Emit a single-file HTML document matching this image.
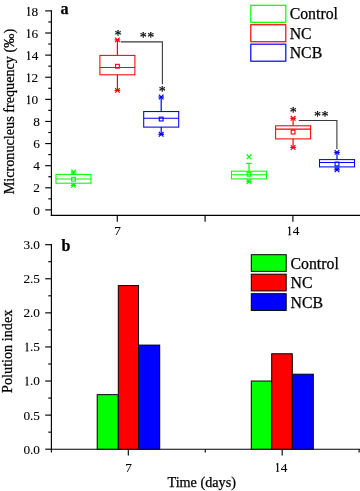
<!DOCTYPE html>
<html><head><meta charset="utf-8"><style>
html,body{margin:0;padding:0;background:#fff;}
svg{display:block;will-change:transform;}
text{font-family:"Liberation Serif",serif;fill:#000;stroke:#000;stroke-width:0.25px;}
.tl{font-size:13.3px;stroke-width:0.1px;}
.ti{font-size:14.2px;}
.lg{font-size:15.8px;}
.lab{font-size:16px;font-weight:bold;}
.st{font-size:14px;}
</style></head><body>
<svg width="360" height="491" viewBox="0 0 360 491">
<rect width="360" height="491" fill="#fff"/>
<line x1="51.4" y1="10.3" x2="51.4" y2="215.9" stroke="#000" stroke-width="1.15"/>
<line x1="50.8" y1="215.3" x2="360" y2="215.3" stroke="#000" stroke-width="1.15"/>
<line x1="45.2" y1="209.90" x2="51.4" y2="209.90" stroke="#000" stroke-width="1.15"/>
<text x="40.0" y="214.50" class="tl" text-anchor="end">0</text>
<line x1="48.3" y1="198.84" x2="51.4" y2="198.84" stroke="#000" stroke-width="1.15"/>
<line x1="45.2" y1="187.79" x2="51.4" y2="187.79" stroke="#000" stroke-width="1.15"/>
<text x="40.0" y="192.39" class="tl" text-anchor="end">2</text>
<line x1="48.3" y1="176.73" x2="51.4" y2="176.73" stroke="#000" stroke-width="1.15"/>
<line x1="45.2" y1="165.68" x2="51.4" y2="165.68" stroke="#000" stroke-width="1.15"/>
<text x="40.0" y="170.28" class="tl" text-anchor="end">4</text>
<line x1="48.3" y1="154.62" x2="51.4" y2="154.62" stroke="#000" stroke-width="1.15"/>
<line x1="45.2" y1="143.56" x2="51.4" y2="143.56" stroke="#000" stroke-width="1.15"/>
<text x="40.0" y="148.16" class="tl" text-anchor="end">6</text>
<line x1="48.3" y1="132.51" x2="51.4" y2="132.51" stroke="#000" stroke-width="1.15"/>
<line x1="45.2" y1="121.45" x2="51.4" y2="121.45" stroke="#000" stroke-width="1.15"/>
<text x="40.0" y="126.05" class="tl" text-anchor="end">8</text>
<line x1="48.3" y1="110.40" x2="51.4" y2="110.40" stroke="#000" stroke-width="1.15"/>
<line x1="45.2" y1="99.34" x2="51.4" y2="99.34" stroke="#000" stroke-width="1.15"/>
<path d="M28.05,95.49h1.3v8.6h-1.3z" fill="#111"/><path d="M28.30,95.89L27.10,96.89" stroke="#111" stroke-width="0.8"/><path d="M27.10,103.79H30.30" stroke="#111" stroke-width="0.6"/><text x="31.60" y="104.09" class="tl">0</text>
<line x1="48.3" y1="88.28" x2="51.4" y2="88.28" stroke="#000" stroke-width="1.15"/>
<line x1="45.2" y1="77.23" x2="51.4" y2="77.23" stroke="#000" stroke-width="1.15"/>
<path d="M28.05,73.38h1.3v8.6h-1.3z" fill="#111"/><path d="M28.30,73.78L27.10,74.78" stroke="#111" stroke-width="0.8"/><path d="M27.10,81.68H30.30" stroke="#111" stroke-width="0.6"/><text x="31.53" y="81.98" class="tl">2</text>
<line x1="48.3" y1="66.17" x2="51.4" y2="66.17" stroke="#000" stroke-width="1.15"/>
<line x1="45.2" y1="55.12" x2="51.4" y2="55.12" stroke="#000" stroke-width="1.15"/>
<path d="M28.05,51.27h1.3v8.6h-1.3z" fill="#111"/><path d="M28.30,51.67L27.10,52.67" stroke="#111" stroke-width="0.8"/><path d="M27.10,59.57H30.30" stroke="#111" stroke-width="0.6"/><text x="31.85" y="59.87" class="tl">4</text>
<line x1="48.3" y1="44.06" x2="51.4" y2="44.06" stroke="#000" stroke-width="1.15"/>
<line x1="45.2" y1="33.00" x2="51.4" y2="33.00" stroke="#000" stroke-width="1.15"/>
<path d="M28.05,29.15h1.3v8.6h-1.3z" fill="#111"/><path d="M28.30,29.55L27.10,30.55" stroke="#111" stroke-width="0.8"/><path d="M27.10,37.45H30.30" stroke="#111" stroke-width="0.6"/><text x="31.54" y="37.75" class="tl">6</text>
<line x1="48.3" y1="21.95" x2="51.4" y2="21.95" stroke="#000" stroke-width="1.15"/>
<line x1="45.2" y1="10.89" x2="51.4" y2="10.89" stroke="#000" stroke-width="1.15"/>
<path d="M28.05,7.04h1.3v8.6h-1.3z" fill="#111"/><path d="M28.30,7.44L27.10,8.44" stroke="#111" stroke-width="0.8"/><path d="M27.10,15.34H30.30" stroke="#111" stroke-width="0.6"/><text x="31.60" y="15.64" class="tl">8</text>
<line x1="117.3" y1="215.3" x2="117.3" y2="221.7" stroke="#000" stroke-width="1.15"/>
<line x1="205.1" y1="215.3" x2="205.1" y2="221.7" stroke="#000" stroke-width="1.15"/>
<line x1="292.9" y1="215.3" x2="292.9" y2="221.7" stroke="#000" stroke-width="1.15"/>
<text x="117.6" y="235" class="tl" text-anchor="middle">7</text>
<path d="M288.95,226.60h1.3v8.6h-1.3z" fill="#111"/><path d="M289.20,227.00L288.00,228.00" stroke="#111" stroke-width="0.8"/><path d="M288.00,234.90H291.20" stroke="#111" stroke-width="0.6"/><text x="292.75" y="235.20" class="tl">4</text>
<text transform="translate(13.6,111.6) rotate(-90)" class="ti" text-anchor="middle">Micronucleus frequency (‰)</text>
<text x="60.5" y="13.9" class="lab">a</text>
<rect x="250.8" y="5.30" width="35.0" height="17.0" fill="none" stroke="#00ff00" stroke-width="1.2"/>
<text x="289.7" y="19.30" class="lg">Control</text>
<rect x="250.8" y="24.75" width="35.0" height="17.0" fill="none" stroke="#ff0000" stroke-width="1.2"/>
<text x="289.7" y="38.75" class="lg">NC</text>
<rect x="250.8" y="44.20" width="35.0" height="17.0" fill="none" stroke="#0000ff" stroke-width="1.2"/>
<text x="289.7" y="58.20" class="lg">NCB</text>
<rect x="56.0" y="174.4" width="35.0" height="8.80" fill="none" stroke="#00ff00" stroke-width="1.05"/><line x1="56.0" y1="179.0" x2="91.0" y2="179.0" stroke="#00ff00" stroke-width="1.05"/><line x1="73.5" y1="172.0" x2="73.5" y2="174.4" stroke="#00ff00" stroke-width="1.2"/><line x1="73.5" y1="183.2" x2="73.5" y2="185.4" stroke="#00ff00" stroke-width="1.2"/><line x1="70.7" y1="172.0" x2="76.3" y2="172.0" stroke="#00ff00" stroke-width="1.2"/><line x1="70.7" y1="185.4" x2="76.3" y2="185.4" stroke="#00ff00" stroke-width="1.2"/><path d="M71.2,169.7L75.8,174.3M71.2,174.3L75.8,169.7" stroke="#00ff00" stroke-width="1.2" fill="none"/><path d="M71.2,183.1L75.8,187.70000000000002M71.2,187.70000000000002L75.8,183.1" stroke="#00ff00" stroke-width="1.2" fill="none"/><rect x="71.6" y="177.29999999999998" width="3.8" height="3.8" fill="none" stroke="#00ff00" stroke-width="1.1"/>
<rect x="99.9" y="55.4" width="35.0" height="19.40" fill="none" stroke="#ff0000" stroke-width="1.05"/><line x1="99.9" y1="67.5" x2="134.9" y2="67.5" stroke="#ff0000" stroke-width="1.05"/><line x1="117.4" y1="39.9" x2="117.4" y2="55.4" stroke="#ff0000" stroke-width="1.2"/><line x1="117.4" y1="74.8" x2="117.4" y2="90.4" stroke="#ff0000" stroke-width="1.2"/><line x1="114.60000000000001" y1="39.9" x2="120.2" y2="39.9" stroke="#ff0000" stroke-width="1.2"/><line x1="114.60000000000001" y1="90.4" x2="120.2" y2="90.4" stroke="#ff0000" stroke-width="1.2"/><path d="M115.10000000000001,37.6L119.7,42.199999999999996M115.10000000000001,42.199999999999996L119.7,37.6" stroke="#ff0000" stroke-width="1.2" fill="none"/><path d="M115.10000000000001,88.10000000000001L119.7,92.7M115.10000000000001,92.7L119.7,88.10000000000001" stroke="#ff0000" stroke-width="1.2" fill="none"/><rect x="115.5" y="64.35" width="3.8" height="3.8" fill="none" stroke="#ff0000" stroke-width="1.1"/>
<rect x="143.7" y="111.55" width="35.0" height="15.55" fill="none" stroke="#0000ff" stroke-width="1.05"/><line x1="143.7" y1="118.2" x2="178.7" y2="118.2" stroke="#0000ff" stroke-width="1.05"/><line x1="161.2" y1="97.0" x2="161.2" y2="111.55" stroke="#0000ff" stroke-width="1.2"/><line x1="161.2" y1="127.1" x2="161.2" y2="134.3" stroke="#0000ff" stroke-width="1.2"/><line x1="158.39999999999998" y1="97.0" x2="164.0" y2="97.0" stroke="#0000ff" stroke-width="1.2"/><line x1="158.39999999999998" y1="134.3" x2="164.0" y2="134.3" stroke="#0000ff" stroke-width="1.2"/><path d="M158.89999999999998,94.7L163.5,99.3M158.89999999999998,99.3L163.5,94.7" stroke="#0000ff" stroke-width="1.2" fill="none"/><path d="M158.89999999999998,132.0L163.5,136.60000000000002M158.89999999999998,136.60000000000002L163.5,132.0" stroke="#0000ff" stroke-width="1.2" fill="none"/><rect x="159.29999999999998" y="117.14999999999999" width="3.8" height="3.8" fill="none" stroke="#0000ff" stroke-width="1.1"/>
<rect x="231.5" y="171.2" width="35.0" height="7.70" fill="none" stroke="#00ff00" stroke-width="1.05"/><line x1="231.5" y1="174.8" x2="266.5" y2="174.8" stroke="#00ff00" stroke-width="1.05"/><line x1="249.0" y1="163.4" x2="249.0" y2="171.2" stroke="#00ff00" stroke-width="1.2"/><line x1="249.0" y1="178.9" x2="249.0" y2="181.7" stroke="#00ff00" stroke-width="1.2"/><line x1="246.2" y1="163.4" x2="251.8" y2="163.4" stroke="#00ff00" stroke-width="1.2"/><line x1="246.2" y1="181.7" x2="251.8" y2="181.7" stroke="#00ff00" stroke-width="1.2"/><path d="M246.7,154.5L251.3,159.10000000000002M246.7,159.10000000000002L251.3,154.5" stroke="#00ff00" stroke-width="1.2" fill="none"/><path d="M246.7,179.39999999999998L251.3,184.0M246.7,184.0L251.3,179.39999999999998" stroke="#00ff00" stroke-width="1.2" fill="none"/><rect x="247.1" y="172.35" width="3.8" height="3.8" fill="none" stroke="#00ff00" stroke-width="1.1"/>
<rect x="275.6" y="125.8" width="35.0" height="13.10" fill="none" stroke="#ff0000" stroke-width="1.05"/><line x1="275.6" y1="129.1" x2="310.6" y2="129.1" stroke="#ff0000" stroke-width="1.05"/><line x1="293.1" y1="118.3" x2="293.1" y2="125.8" stroke="#ff0000" stroke-width="1.2"/><line x1="293.1" y1="138.9" x2="293.1" y2="147.5" stroke="#ff0000" stroke-width="1.2"/><line x1="290.3" y1="118.3" x2="295.90000000000003" y2="118.3" stroke="#ff0000" stroke-width="1.2"/><line x1="290.3" y1="147.5" x2="295.90000000000003" y2="147.5" stroke="#ff0000" stroke-width="1.2"/><path d="M290.8,116.0L295.40000000000003,120.6M290.8,120.6L295.40000000000003,116.0" stroke="#ff0000" stroke-width="1.2" fill="none"/><path d="M290.8,145.2L295.40000000000003,149.8M290.8,149.8L295.40000000000003,145.2" stroke="#ff0000" stroke-width="1.2" fill="none"/><rect x="291.20000000000005" y="130.2" width="3.8" height="3.8" fill="none" stroke="#ff0000" stroke-width="1.1"/>
<rect x="319.5" y="159.6" width="35.0" height="7.30" fill="none" stroke="#0000ff" stroke-width="1.05"/><line x1="319.5" y1="162.4" x2="354.5" y2="162.4" stroke="#0000ff" stroke-width="1.05"/><line x1="337.0" y1="152.35" x2="337.0" y2="159.6" stroke="#0000ff" stroke-width="1.2"/><line x1="337.0" y1="166.9" x2="337.0" y2="169.8" stroke="#0000ff" stroke-width="1.2"/><line x1="334.2" y1="152.35" x2="339.8" y2="152.35" stroke="#0000ff" stroke-width="1.2"/><line x1="334.2" y1="169.8" x2="339.8" y2="169.8" stroke="#0000ff" stroke-width="1.2"/><path d="M334.7,150.04999999999998L339.3,154.65M334.7,154.65L339.3,150.04999999999998" stroke="#0000ff" stroke-width="1.2" fill="none"/><path d="M334.7,167.5L339.3,172.10000000000002M334.7,172.10000000000002L339.3,167.5" stroke="#0000ff" stroke-width="1.2" fill="none"/><rect x="335.1" y="162.1" width="3.8" height="3.8" fill="none" stroke="#0000ff" stroke-width="1.1"/>
<path d="M120.7,41.9H162.4V84.3" fill="none" stroke="#3a3a3a" stroke-width="1.1"/>
<path d="M298.8,120.5H336.9V149" fill="none" stroke="#3a3a3a" stroke-width="1.1"/>
<text x="118.1" y="39.5" class="st" text-anchor="middle">*</text>
<text x="147.3" y="42.0" class="st" text-anchor="middle" letter-spacing="0.6">**</text>
<text x="162.3" y="96" class="st" text-anchor="middle">*</text>
<text x="293.2" y="116.5" class="st" text-anchor="middle">*</text>
<text x="321.6" y="121.2" class="st" text-anchor="middle" letter-spacing="0.6">**</text>
<line x1="51.4" y1="244.1" x2="51.4" y2="452.4" stroke="#000" stroke-width="1.15"/>
<line x1="50.8" y1="449.2" x2="360" y2="449.2" stroke="#000" stroke-width="1.15"/>
<line x1="45.2" y1="449.20" x2="51.4" y2="449.20" stroke="#000" stroke-width="1.15"/>
<text x="40.0" y="453.60" class="tl" text-anchor="end">0.0</text>
<line x1="48.3" y1="432.16" x2="51.4" y2="432.16" stroke="#000" stroke-width="1.15"/>
<line x1="45.2" y1="415.12" x2="51.4" y2="415.12" stroke="#000" stroke-width="1.15"/>
<text x="40.0" y="419.51" class="tl" text-anchor="end">0.5</text>
<line x1="48.3" y1="398.07" x2="51.4" y2="398.07" stroke="#000" stroke-width="1.15"/>
<line x1="45.2" y1="381.03" x2="51.4" y2="381.03" stroke="#000" stroke-width="1.15"/>
<path d="M26.45,376.83h1.3v8.6h-1.3z" fill="#111"/><path d="M26.70,377.23L25.50,378.23" stroke="#111" stroke-width="0.8"/><path d="M25.50,385.13H28.70" stroke="#111" stroke-width="0.6"/><text x="40.0" y="385.43" class="tl" text-anchor="end">.0</text>
<line x1="48.3" y1="363.99" x2="51.4" y2="363.99" stroke="#000" stroke-width="1.15"/>
<line x1="45.2" y1="346.94" x2="51.4" y2="346.94" stroke="#000" stroke-width="1.15"/>
<path d="M26.45,342.74h1.3v8.6h-1.3z" fill="#111"/><path d="M26.70,343.14L25.50,344.14" stroke="#111" stroke-width="0.8"/><path d="M25.50,351.04H28.70" stroke="#111" stroke-width="0.6"/><text x="40.0" y="351.34" class="tl" text-anchor="end">.5</text>
<line x1="48.3" y1="329.90" x2="51.4" y2="329.90" stroke="#000" stroke-width="1.15"/>
<line x1="45.2" y1="312.86" x2="51.4" y2="312.86" stroke="#000" stroke-width="1.15"/>
<text x="40.0" y="317.26" class="tl" text-anchor="end">2.0</text>
<line x1="48.3" y1="295.82" x2="51.4" y2="295.82" stroke="#000" stroke-width="1.15"/>
<line x1="45.2" y1="278.77" x2="51.4" y2="278.77" stroke="#000" stroke-width="1.15"/>
<text x="40.0" y="283.17" class="tl" text-anchor="end">2.5</text>
<line x1="48.3" y1="261.73" x2="51.4" y2="261.73" stroke="#000" stroke-width="1.15"/>
<line x1="45.2" y1="244.69" x2="51.4" y2="244.69" stroke="#000" stroke-width="1.15"/>
<text x="40.0" y="249.09" class="tl" text-anchor="end">3.0</text>
<line x1="128.3" y1="449.2" x2="128.3" y2="455.5" stroke="#000" stroke-width="1.15"/>
<line x1="205.25" y1="449.2" x2="205.25" y2="452.4" stroke="#000" stroke-width="1.15"/>
<line x1="282.2" y1="449.2" x2="282.2" y2="455.5" stroke="#000" stroke-width="1.15"/>
<line x1="359.1" y1="449.2" x2="359.1" y2="452.4" stroke="#000" stroke-width="1.15"/>
<text x="128.6" y="471.8" class="tl" text-anchor="middle">7</text>
<path d="M276.95,463.10h1.3v8.6h-1.3z" fill="#111"/><path d="M277.20,463.50L276.00,464.50" stroke="#111" stroke-width="0.8"/><path d="M276.00,471.40H279.20" stroke="#111" stroke-width="0.6"/><text x="280.75" y="471.70" class="tl">4</text>
<text x="201.7" y="487" class="ti" text-anchor="middle">Time (days)</text>
<text transform="translate(12.3,351.3) rotate(-90)" class="ti" text-anchor="middle">Polution index</text>
<text x="61.6" y="250.7" class="lab">b</text>
<rect x="97.2" y="394.66" width="21.10" height="54.54" fill="#00ff00" stroke="#000" stroke-width="1"/>
<rect x="118.3" y="285.59" width="20.20" height="163.61" fill="#ff0000" stroke="#000" stroke-width="1"/>
<rect x="138.5" y="345.10" width="21.20" height="104.10" fill="#0000ff" stroke="#000" stroke-width="1"/>
<rect x="251.3" y="381.03" width="20.40" height="68.17" fill="#00ff00" stroke="#000" stroke-width="1"/>
<rect x="271.7" y="353.76" width="20.60" height="95.44" fill="#ff0000" stroke="#000" stroke-width="1"/>
<rect x="292.3" y="374.21" width="21.00" height="74.99" fill="#0000ff" stroke="#000" stroke-width="1"/>
<rect x="251.3" y="254.70" width="34.9" height="16.7" fill="#00ff00" stroke="#000" stroke-width="1"/>
<text x="290.5" y="268.70" class="lg">Control</text>
<rect x="251.3" y="274.20" width="34.9" height="16.7" fill="#ff0000" stroke="#000" stroke-width="1"/>
<text x="290.5" y="288.25" class="lg">NC</text>
<rect x="251.3" y="293.70" width="34.9" height="16.7" fill="#0000ff" stroke="#000" stroke-width="1"/>
<text x="290.5" y="307.80" class="lg">NCB</text>
</svg>
</body></html>
